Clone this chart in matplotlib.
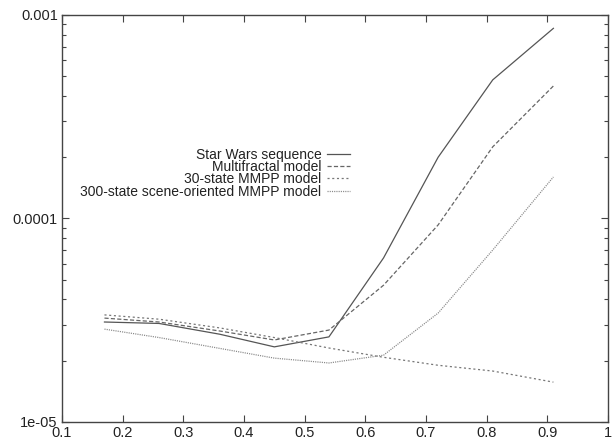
import numpy as np
import matplotlib
matplotlib.use("Agg")
import matplotlib.pyplot as plt
from matplotlib.ticker import FixedLocator, FixedFormatter, LogLocator, NullFormatter

# ── Data ─────────────────────────────────────────────────────────────────────
utilization = [0.17, 0.26, 0.36, 0.45, 0.54, 0.63, 0.72, 0.81, 0.91]

star_wars    = [3.1e-5, 3.05e-5, 2.7e-5, 2.34e-5, 2.62e-5, 6.4e-5, 2.0e-4, 4.8e-4, 8.6e-4]
multifractal = [3.24e-5, 3.1e-5, 2.8e-5, 2.53e-5, 2.83e-5, 4.7e-5, 9.3e-5, 2.25e-4, 4.48e-4]
mmpp_30      = [3.36e-5, 3.2e-5, 2.9e-5, 2.6e-5, 2.31e-5, 2.08e-5, 1.9e-5, 1.78e-5, 1.57e-5]
mmpp_300     = [2.86e-5, 2.6e-5, 2.3e-5, 2.06e-5, 1.95e-5, 2.13e-5, 3.43e-5, 7.0e-5, 1.6e-4]

series_labels = ["Star Wars sequence", "Multifractal model",
                 "30-state MMPP model", "300-state scene-oriented MMPP model"]

x_ticks = [0.1, 0.2, 0.3, 0.4, 0.5, 0.6, 0.7, 0.8, 0.9, 1.0]
x_tick_labels = ["0.1", "0.2", "0.3", "0.4", "0.5", "0.6", "0.7", "0.8", "0.9", "1"]
y_ticks = [1e-5, 1e-4, 1e-3]
y_tick_labels = ["1e-05", "0.0001", "0.001"]

# ── Figure ───────────────────────────────────────────────────────────────────
plt.rcParams["font.family"] = ["Liberation Sans", "DejaVu Sans"]
plt.rcParams["lines.scale_dashes"] = False

fig = plt.figure(figsize=(6.15, 4.44), dpi=100)
ax = fig.add_axes([62 / 615, 22 / 444, 546 / 615, 407 / 444])

lw = 0.9
ax.plot(utilization, star_wars, color="#555555", lw=lw, ls="-", label=series_labels[0])
ax.plot(utilization, multifractal, color="#666666", lw=lw, ls=(0, (3.0, 1.6)), label=series_labels[1])
ax.plot(utilization, mmpp_30, color="#777777", lw=lw, ls=(0, (1.5, 1.9)), label=series_labels[2])
ax.plot(utilization, mmpp_300, color="#888888", lw=lw, ls=(0, (0.8, 0.8)), label=series_labels[3])

ax.set_yscale("log")
ax.set_xlim(0.1, 1.0)
ax.set_ylim(1e-5, 1e-3)

ax.xaxis.set_major_locator(FixedLocator(x_ticks))
ax.xaxis.set_major_formatter(FixedFormatter(x_tick_labels))
ax.yaxis.set_major_locator(FixedLocator(y_ticks))
ax.yaxis.set_major_formatter(FixedFormatter(y_tick_labels))
ax.yaxis.set_minor_locator(LogLocator(base=10, subs=np.arange(2, 10)))
ax.yaxis.set_minor_formatter(NullFormatter())

ax.tick_params(which="both", direction="in", top=True, right=True,
               colors="#444444", labelcolor="#222222", labelsize=10.5, pad=3)
ax.tick_params(which="major", length=5, width=0.8)
ax.tick_params(which="minor", length=3, width=0.8)
for s in ax.spines.values():
    s.set_color("#444444")
    s.set_linewidth(1.0)

# ── Legend (gnuplot style: text left, sample right) ──────────────────────────
ax.legend(loc="center right", bbox_to_anchor=(288 / 546, (422 - 173) / 407),
          frameon=False, markerfirst=False, fontsize=10, handlelength=1.65,
          handletextpad=0.4, labelspacing=-0.12, borderpad=0, borderaxespad=0,
          labelcolor="#222222")

fig.savefig("out.png", dpi=100)
